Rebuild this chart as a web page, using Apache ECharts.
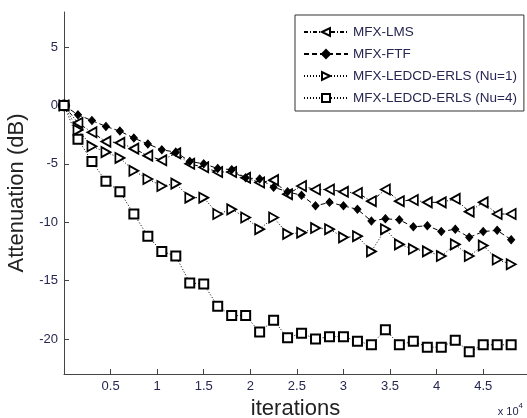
<!DOCTYPE html>
<html>
<head>
<meta charset="utf-8">
<script src="https://cdn.jsdelivr.net/npm/echarts@6/dist/echarts.min.js"></script>
<style>
  html, body { margin: 0; padding: 0; background: #fff; }
  #chart { width: 527px; height: 418px; }
</style>
</head>
<body>
<div id="chart"></div>
<script>
// iterations where the markers sit
var iters = [0, 1500, 3000, 4500, 6000, 7500, 9000, 10500, 12000, 13500, 15000,
  16500, 18000, 19500, 21000, 22500, 24000, 25500, 27000, 28500, 30000,
  31500, 33000, 34500, 36000, 37500, 39000, 40500, 42000, 43500, 45000, 46500, 48000];

var lms = [0, -1.5, -2.3, -3.1, -3.2, -3.7, -4.3, -4.7, -4.1, -5.0, -5.3, -5.7, -5.7, -6.2, -6.6, -6.4,
  -7.6, -6.9, -7.2, -7.2, -7.4, -7.5, -8.2, -7.2, -8.2, -8.1, -8.3, -8.3, -8.0, -9.1, -8.3, -9.3, -9.3];
var ftf = [0, -0.8, -1.3, -1.8, -2.2, -2.8, -3.3, -3.8, -4.0, -4.8, -5.0, -5.4, -5.5, -6.2, -6.3, -7.0,
  -7.4, -7.7, -8.6, -8.3, -8.6, -8.9, -9.9, -9.7, -9.8, -10.4, -10.3, -10.8, -10.6, -11.3, -10.8, -10.7, -11.5];
var erls1 = [0, -2.1, -3.5, -4.0, -4.5, -5.6, -6.3, -6.9, -6.7, -7.9, -7.9, -9.3, -8.9, -9.6, -10.6, -9.6,
  -11.0, -10.9, -10.5, -10.6, -11.3, -11.2, -12.5, -10.6, -11.9, -12.3, -12.5, -12.9, -11.9, -12.9, -12.0, -13.2, -13.6];
var erls4 = [0, -2.9, -4.8, -6.5, -7.4, -9.3, -11.2, -12.5, -12.9, -15.2, -15.3, -17.2, -18.0, -18.0, -19.4, -18.4,
  -19.9, -19.5, -20.0, -19.8, -19.8, -20.2, -20.5, -19.2, -20.5, -20.2, -20.7, -20.7, -20.1, -21.1, -20.5, -20.5, -20.5];

var seriesNames = ['MFX-LMS', 'MFX-FTF', 'MFX-LEDCD-ERLS (Nu=1)', 'MFX-LEDCD-ERLS (Nu=4)'];
var xTicks = [5000, 10000, 15000, 20000, 25000, 30000, 35000, 40000, 45000];
var yTicks = [-20, -15, -10, -5, 0, 5];

function pairs(ys) {
  return iters.map(function (x, i) { return [x, ys[i]]; });
}

var textColor = '#262650';
var font = 'Liberation Sans, Arial, sans-serif';

var chart = echarts.init(document.getElementById('chart'));

function makeSeries(name, ys, symbol, size, dash, fill, bw) {
  return {
    name: name,
    type: 'line',
    data: pairs(ys),
    symbol: symbol,
    symbolSize: size,
    symbolKeepAspect: true,
    lineStyle: { color: '#000', width: 1, type: dash },
    itemStyle: { color: fill, borderColor: '#000', borderWidth: bw }
  };
}

var ftfSeries = makeSeries(seriesNames[1], ftf, 'diamond', [7, 8], [5, 3], '#000', 1);
// start point shows as a filled blob in the original
ftfSeries.data[0] = { value: ftfSeries.data[0], symbol: 'circle', symbolSize: 11 };
ftfSeries.z = 3;

chart.setOption({
  animation: false,
  grid: { left: 64, right: 0, top: 12, bottom: 44, outerBoundsMode: 'none' },
  legend: {
    orient: 'vertical',
    left: 295,
    top: 15,
    padding: [10, 7, 6, 8],
    itemGap: 8,
    itemWidth: 44,
    itemHeight: 10,
    borderColor: '#333',
    borderWidth: 1,
    textStyle: { fontFamily: font, fontSize: 13.5, lineHeight: 14, color: textColor },
    data: seriesNames
  },
  xAxis: {
    type: 'value',
    min: 0,
    max: 49700,
    name: 'iterations',
    nameLocation: 'middle',
    nameGap: 20,
    nameTextStyle: { fontFamily: font, fontSize: 22, color: '#222' },
    axisLine: { show: true, onZero: false, lineStyle: { color: '#444', width: 1 } },
    axisTick: { show: true, inside: true, length: 5, customValues: xTicks, lineStyle: { color: '#444' } },
    axisLabel: {
      customValues: xTicks,
      fontFamily: font, fontSize: 13, color: textColor, margin: 6,
      formatter: function (v) { return String(v / 10000); }
    },
    splitLine: { show: false }
  },
  yAxis: {
    type: 'value',
    min: -23,
    max: 8,
    name: 'Attenuation (dB)',
    nameLocation: 'middle',
    nameGap: 20,
    nameTextStyle: { fontFamily: font, fontSize: 22, color: '#222' },
    axisLine: { show: true, onZero: false, lineStyle: { color: '#444', width: 1 } },
    axisTick: { show: true, inside: true, length: 5, customValues: yTicks, lineStyle: { color: '#444' } },
    axisLabel: {
      customValues: yTicks,
      fontFamily: font, fontSize: 13, color: textColor, margin: 6
    },
    splitLine: { show: false }
  },
  graphic: [{
    type: 'text',
    right: 4,
    top: 402,
    style: {
      text: '{a|x 10}{b|4}',
      rich: {
        a: { fontFamily: font, fontSize: 11, fill: textColor, padding: [4, 0, 0, 0] },
        b: { fontFamily: font, fontSize: 8, fill: textColor, verticalAlign: 'top' }
      }
    }
  }],
  series: [
    makeSeries(seriesNames[0], lms, 'path://M0,5L10,0L10,10Z', [9, 10], [4, 2, 1, 2], '#fff', 1.8),
    ftfSeries,
    makeSeries(seriesNames[2], erls1, 'path://M10,5L0,0L0,10Z', [9, 10], [1, 2], '#fff', 1.8),
    makeSeries(seriesNames[3], erls4, 'rect', 9, [1, 2], '#fff', 2)
  ]
});
</script>
</body>
</html>
